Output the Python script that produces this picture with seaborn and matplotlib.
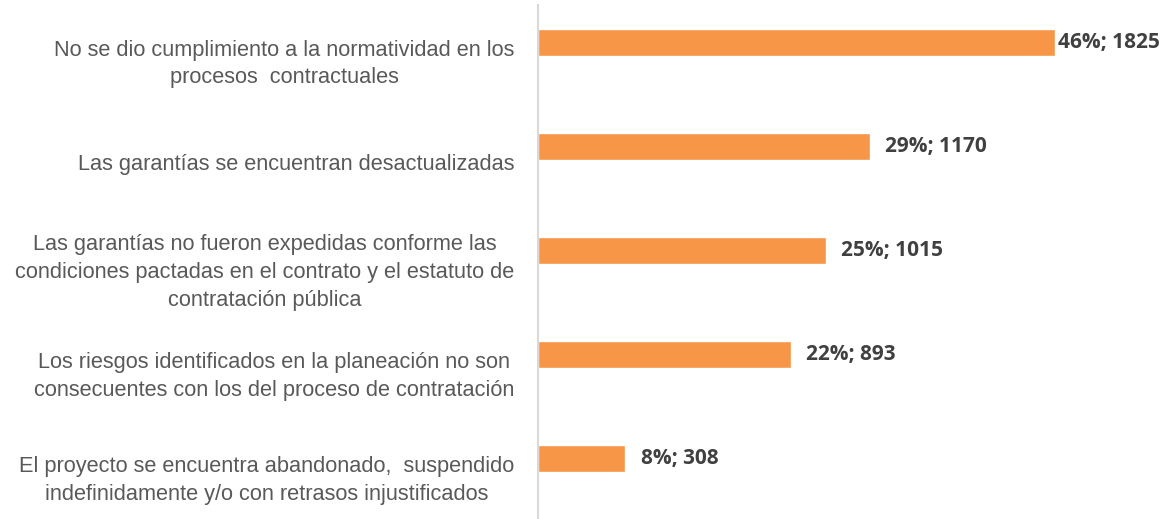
import matplotlib.pyplot as plt
import matplotlib.transforms as mtransforms
import seaborn as sns
import pandas as pd

# motivos y conteos
motivos = [
    "No se dio cumplimiento a la normatividad en los\nprocesos  contractuales",
    "Las garantías se encuentran desactualizadas",
    "Las garantías no fueron expedidas conforme las\ncondiciones pactadas en el contrato y el estatuto de\ncontratación pública",
    "Los riesgos identificados en la planeación no son\nconsecuentes con los del proceso de contratación",
    "El proyecto se encuentra abandonado,  suspendido\nindefinidamente y/o con retrasos injustificados",
]
conteos = [1825, 1170, 1015, 893, 308]
porcentajes = [46, 29, 25, 22, 8]

df = pd.DataFrame({"motivo": motivos, "conteo": conteos})

sns.set_style("white")
plt.rcParams["font.family"] = ["Liberation Sans", "DejaVu Sans"]

fig = plt.figure(figsize=(11.69, 5.19), dpi=100)
ax = fig.add_axes([538 / 1169, 0, 631 / 1169, 514 / 519])

sns.barplot(data=df, x="conteo", y="motivo", orient="h", color="#F79646",
            width=0.26, saturation=1, ax=ax)

ax.set_xlim(0, 2227)
ax.set_ylim(4.577, -0.356)
ax.set_xlabel("")
ax.set_ylabel("")
ax.set_xticks([])

for s in ["top", "right", "bottom"]:
    ax.spines[s].set_visible(False)
ax.spines["left"].set_color("#D9D9D9")
ax.spines["left"].set_linewidth(1.5)

# las etiquetas quedan un poco mas abajo que las barras
shift = mtransforms.ScaledTranslation(0, -0.16, fig.dpi_scale_trans)
ax.tick_params(axis="y", length=0, pad=17)
for t in ax.get_yticklabels():
    t.set_fontsize(15.7)
    t.set_color("#595959")
    t.set_multialignment("center")
    t.set_linespacing(1.42)
    t.set_transform(t.get_transform() + shift)

# etiquetas de valor
for i, (c, p) in enumerate(zip(conteos, porcentajes)):
    off = 2 if i == 0 else 11
    ax.annotate(f"{p}%; {c}", xy=(c, i), xytext=(off, 0), textcoords="offset points",
                va="center", ha="left", fontsize=15, fontweight="bold",
                color="#404040", family=["Open Sans", "DejaVu Sans"])

fig.savefig("out.png", dpi=100)
